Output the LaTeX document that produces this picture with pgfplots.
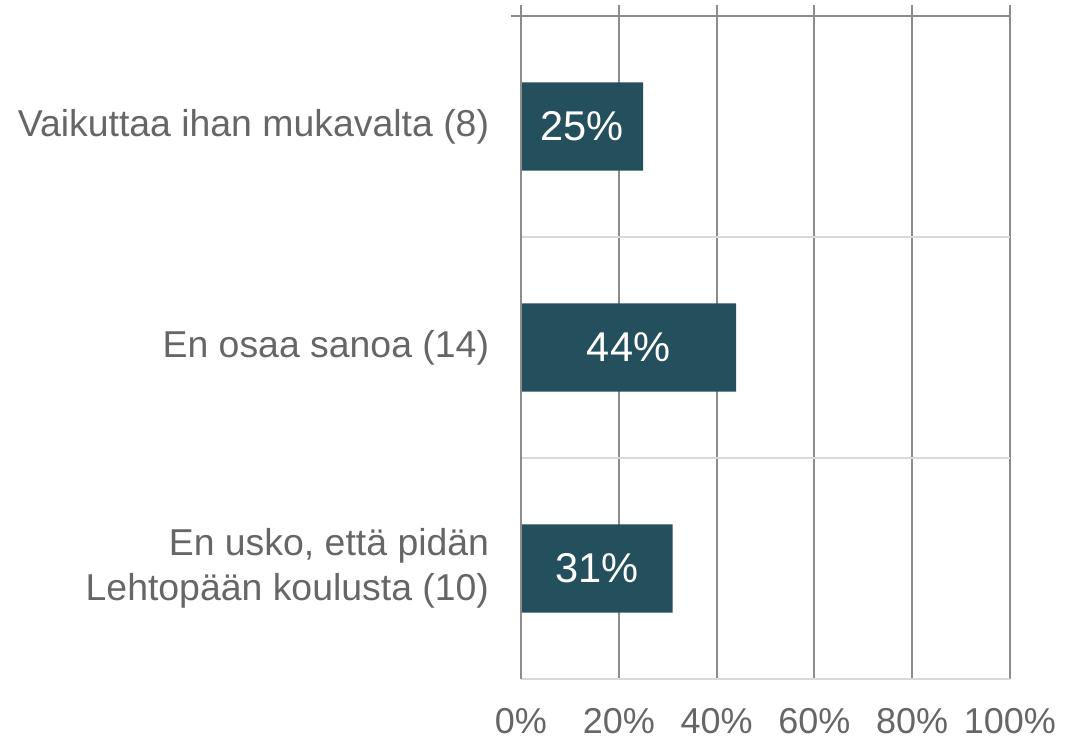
\documentclass[border=0pt]{standalone}
\usepackage{pgfplots}
\pgfplotsset{compat=1.18}
\usepackage{fontspec}
\setmainfont{Liberation Sans}
\definecolor{barcol}{HTML}{244F5D}
\definecolor{txtgray}{HTML}{666666}
\definecolor{griddark}{HTML}{8C8C8C}
\definecolor{gridlight}{HTML}{D9D9D9}
\begin{document}
\fontsize{18}{21.6}\selectfont
\begin{tikzpicture}
\useasboundingbox (-260.5pt,-30.5pt) rectangle (281.5pt,339.5pt);
\begin{axis}[
    at={(0,0)}, anchor=south west,
    scale only axis,
    width=244.5pt, height=337pt,
    xbar, bar width=0.4,
    xmin=0, xmax=100,
    ymin=-0.55, ymax=2.5,
    y dir=reverse,
    axis line style={draw=none},
    xtick={0,20,40,60,80,100},
    xticklabel={\pgfmathprintnumber{\tick}\%},
    xtick style={draw=none},
    xmajorgrids,
    major grid style={griddark, line width=1pt},
    xticklabel style={yshift=-8.5pt, font=\fontsize{18}{21.6}\selectfont},
    ytick={0,1,2},
    yticklabels={{Vaikuttaa ihan mukavalta (8)},{En osaa sanoa (14)},{En usko, että pidän\\Lehtopään koulusta (10)}},
    yticklabel style={align=right, inner xsep=0pt, xshift=-11.5pt, font=\fontsize{18.7}{22.4}\selectfont},
    ytick style={draw=none},
    extra y ticks={0.5,1.5,2.5},
    extra y tick labels={},
    extra y tick style={
        ymajorgrids,
        major grid style={gridlight, line width=1pt},
        tick style={draw=griddark, line width=1pt},
        major tick length=5pt, tick align=outside,
    },
    ticklabel style={text=txtgray},
    /pgf/number format/assume math mode=true,
    clip=false,
    nodes near coords={\pgfmathprintnumber{\pgfplotspointmeta}\%},
    point meta=x,
    visualization depends on={x \as \rawx},
    every node near coord/.append style={
        anchor=center, text=white, font=\fontsize{20.8}{25}\selectfont,
        shift={(axis direction cs:-\rawx/2,0)}},
]
\addplot[fill=barcol, draw=none] coordinates {(25,0) (44,1) (31,2)};
\draw[griddark, line width=1pt] (axis cs:0,-0.55) -- (axis cs:0,2.5);
\draw[griddark, line width=1pt] ([xshift=-5pt]axis cs:0,-0.5) -- (axis cs:100,-0.5);
\end{axis}
\end{tikzpicture}
\end{document}
